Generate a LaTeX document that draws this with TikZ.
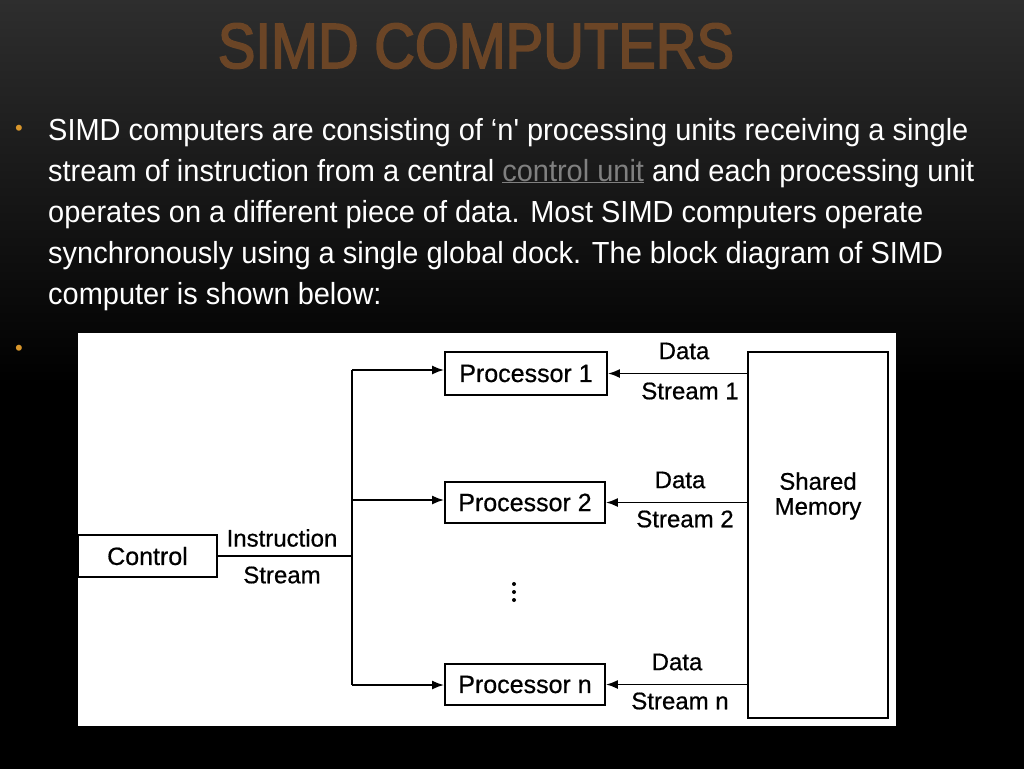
\documentclass[tikz,border=0pt]{standalone}
\usepackage{fontspec}
\setmainfont{Liberation Sans}
\newfontfamily\narrowf[FakeStretch=0.95]{Liberation Sans}
\newfontfamily\titlef[FakeStretch=0.88,FakeBold=2.5]{Liberation Sans}
\newfontfamily\diagf[FakeBold=0.6]{Liberation Sans}
\definecolor{titlec}{HTML}{6B4526}
\definecolor{bul}{HTML}{D9962B}
\begin{document}
\begin{tikzpicture}[x=1pt,y=-1pt,
  body/.style={anchor=base west,inner sep=0,text=white,font=\narrowf\fontsize{30.5}{34}\selectfont},
  box/.style={draw,line width=1.8pt,inner sep=0,font=\diagf\fontsize{25}{28}\selectfont},
  lab/.style={inner sep=0,font=\diagf\fontsize{24}{27}\selectfont},
  line/.style={line width=1.8pt},
  arr/.style={line width=1.8pt,-{Latex[length=12pt,width=9pt]}}]
\usetikzlibrary{arrows.meta}
\fill[top color=black!82,bottom color=black,middle color=black] (0,0) rectangle (1024,768);
\useasboundingbox (0,0) rectangle (1024,768);
\node[inner sep=0,text=titlec,font=\titlef\fontsize{64}{70}\selectfont] (title) at (476,46) {SIMD COMPUTERS};
\node[text=bul,inner sep=0,font=\fontsize{22}{24}\selectfont] (b1) at (19,130) {•};
\node[text=bul,inner sep=0,font=\fontsize{22}{24}\selectfont] (b2) at (19,350) {•};
\node[body] (l1) at (48,140) {SIMD computers are consisting of ‘n' processing units receiving a single};
\node[body] (l2) at (48,181) {stream of instruction from a central \textcolor{gray}{\underline{control unit}} and each processing unit};
\node[body] (l3) at (48,222) {operates on a different piece of data. Most SIMD computers operate};
\node[body] (l4) at (48,263) {synchronously using a single global dock. The block diagram of SIMD};
\node[body] (l5) at (48,304) {computer is shown below:};
\fill[white] (78,333) rectangle (896,726);
\node[box,minimum width=139,minimum height=42] (ctl) at (147.5,556) {Control};
\node[box,minimum width=162,minimum height=43] (p1) at (526,373.5) {Processor 1};
\node[box,minimum width=160,minimum height=41] (p2) at (525,502.5) {Processor 2};
\node[box,minimum width=160,minimum height=41] (pn) at (525,684.5) {Processor n};
\node[box,minimum width=140,minimum height=366] (mem) at (818,535) {};
\node[lab,align=center] (mt) at (818,496) {Shared\\[-2pt]Memory};
\coordinate (bt) at (352,370);
\coordinate (bm) at (352,556);
\coordinate (bb) at (352,685);
\coordinate (b2c) at (352,500);
\draw[line] (ctl.east) -- (bm);
\draw[line] (bt) -- (bb);
\draw[arr] (bt) -- (p1.west|-bt);
\draw[arr] (b2c) -- (p2.west|-b2c);
\draw[arr] (bb) -- (pn.west|-bb);
\draw[arr] (mem.west|-p1) -- (p1.east);
\draw[arr] (mem.west|-p2) -- (p2.east);
\draw[arr] (mem.west|-pn) -- (pn.east);
\node[lab] (is1) at (282,538) {Instruction};
\node[lab] (is2) at (282,575) {Stream};
\node[lab] (d1) at (684,351) {Data};
\node[lab] (s1) at (690,391) {Stream 1};
\node[lab] (d2) at (680,480) {Data};
\node[lab] (s2) at (685,519) {Stream 2};
\node[lab] (d3) at (677,662) {Data};
\node[lab] (s3) at (680,701) {Stream n};
\foreach \yy in {584,592,600} \fill (514,\yy) circle (2);
\end{tikzpicture}
\end{document}
